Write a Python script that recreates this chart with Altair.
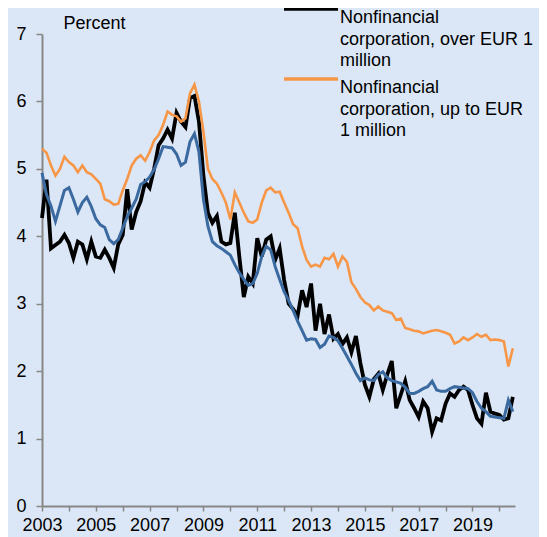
import altair as alt
import pandas as pd

# Bi-monthly observations (Jan, Mar, May, Jul, Sep, Nov), Jan 2003 - Jul 2020, percent
over_1m = [
    4.27, 4.84, 3.82, 3.87, 3.92, 4.02,
    3.90, 3.68, 3.92, 3.88, 3.66, 3.92,
    3.70, 3.68, 3.80, 3.68, 3.53, 3.88,
    4.02, 4.70, 4.10, 4.36, 4.52, 4.80,
    4.72, 5.00, 5.35, 5.45, 5.58, 5.45,
    5.83, 5.70, 5.62, 6.05, 6.08, 5.70,
    4.90, 4.35, 4.20, 4.30, 3.92, 3.88,
    3.90, 4.35, 3.70, 3.10, 3.40, 3.30,
    3.97, 3.70, 3.95, 4.00, 3.65, 3.82,
    3.35, 3.00, 2.92, 2.82, 3.20, 2.95,
    3.30, 2.60, 3.00, 2.55, 2.84, 2.48,
    2.55, 2.40, 2.50, 2.28, 2.52, 2.12,
    1.80, 1.62, 1.88, 1.96, 1.72, 1.95,
    2.15, 1.45, 1.65, 1.85, 1.57, 1.45,
    1.32, 1.55, 1.45, 1.10, 1.30, 1.27,
    1.52, 1.67, 1.62, 1.72, 1.77, 1.72,
    1.50, 1.30, 1.22, 1.68, 1.40, 1.37,
    1.35, 1.28, 1.30, 1.62,
]
up_to_1m = [
    5.30, 5.24, 5.05, 4.90, 5.00, 5.18,
    5.10, 5.05, 4.95, 5.05, 4.95, 4.92,
    4.85, 4.78, 4.55, 4.52, 4.47, 4.48,
    4.68, 4.85, 5.05, 5.15, 5.20, 5.12,
    5.25, 5.42, 5.50, 5.65, 5.85, 5.80,
    5.78, 5.70, 5.75, 6.12, 6.25, 6.00,
    5.55, 5.00, 4.85, 4.78, 4.65, 4.50,
    4.25, 4.65, 4.50, 4.35, 4.22, 4.20,
    4.25, 4.50, 4.68, 4.72, 4.65, 4.66,
    4.50, 4.35, 4.18, 4.12, 3.85, 3.65,
    3.55, 3.58, 3.55, 3.68, 3.66, 3.74,
    3.55, 3.70, 3.62, 3.32, 3.22, 3.10,
    3.02, 2.98, 2.90, 2.96, 2.90, 2.88,
    2.86, 2.76, 2.78, 2.64, 2.62, 2.60,
    2.59, 2.56, 2.58, 2.60, 2.61, 2.59,
    2.57, 2.54, 2.41, 2.44, 2.50, 2.46,
    2.50, 2.55, 2.51, 2.54, 2.46, 2.47,
    2.46, 2.44, 2.07, 2.34,
]
total = [
    4.94, 4.62, 4.45, 4.22, 4.45, 4.68,
    4.72, 4.55, 4.36, 4.50, 4.58, 4.44,
    4.26, 4.17, 4.13, 3.95, 3.89, 3.95,
    4.12, 4.29, 4.42, 4.55, 4.77, 4.81,
    4.88, 4.99, 5.15, 5.33, 5.32, 5.31,
    5.22, 5.05, 5.10, 5.40, 5.52, 5.25,
    4.55, 4.15, 3.92, 3.86, 3.82, 3.77,
    3.72, 3.58, 3.46, 3.36, 3.27, 3.30,
    3.45, 3.70, 3.85, 3.80, 3.55, 3.36,
    3.18, 3.05, 2.90, 2.74, 2.60, 2.46,
    2.48, 2.47, 2.35, 2.40, 2.52, 2.50,
    2.45, 2.34, 2.22, 2.10, 1.97, 1.86,
    1.90, 1.87, 1.86, 1.95, 1.99, 1.90,
    1.86, 1.84, 1.82, 1.76, 1.67, 1.67,
    1.70, 1.74, 1.77, 1.85, 1.72, 1.70,
    1.70, 1.74, 1.77, 1.76, 1.75, 1.74,
    1.68, 1.55, 1.45, 1.40, 1.33, 1.32,
    1.31, 1.30, 1.57, 1.40,
]

OVER = "Nonfinancial corporation, over EUR 1 million"
UP = "Nonfinancial corporation, up to EUR 1 million"
over_lines = ["Nonfinancial", "corporation, over EUR 1", "million"]
up_lines = ["Nonfinancial", "corporation, up to EUR", "1 million"]
year_ticks = list(range(2003, 2021))
y_ticks = list(range(0, 8))

n = len(over_1m)
dates = pd.date_range("2003-01-01", periods=n, freq="2MS")
t = list(dates.year + (dates.month - 1) / 12.0)

df_over = pd.DataFrame({"t": t, "value": over_1m, "series": [OVER] * n})
df_up = pd.DataFrame({"t": t, "value": up_to_1m, "series": [UP] * n})
df_total = pd.DataFrame({"t": t, "value": total})

FONT = "Liberation Sans"

x_enc = alt.X(
    "t:Q",
    scale=alt.Scale(domain=[2003, 2020.58], nice=False, zero=False),
    axis=alt.Axis(
        values=year_ticks,
        labelExpr="datum.value % 2 == 1 ? format(datum.value, 'd') : ''",
        title=None, grid=False, tickSize=5, labelPadding=5,
        labelFlush=False, labelOverlap=False,
    ),
)
y_enc = alt.Y(
    "value:Q",
    scale=alt.Scale(domain=[0, 7], nice=False, zero=True),
    axis=alt.Axis(
        values=y_ticks, format="d", grid=False, tickSize=6, labelPadding=10,
        title="Percent", titleAngle=0, titleAlign="left", titleBaseline="alphabetic",
        titleX=21, titleY=-6, titleFontSize=18, titleFontWeight="normal",
        titleFont=FONT, titleColor="#000000",
    ),
)


def legend_for(lines, y):
    expr = "[" + ", ".join("'" + s + "'" for s in lines) + "]"
    return alt.Legend(
        title=None, orient="none", legendX=240, legendY=y,
        symbolType="stroke", symbolSize=2916, symbolStrokeWidth=3.5,
        labelFontSize=18, labelFont=FONT, labelColor="#000000",
        labelLimit=0, labelOffset=0, labelBaseline="top",
        labelExpr=expr, padding=0,
    )


black = alt.Chart(df_over).mark_line(strokeWidth=3.8).encode(
    x=x_enc, y=y_enc,
    color=alt.Color("series:N", scale=alt.Scale(domain=[OVER], range=["#000000"]),
                    legend=legend_for(over_lines, -54)),
)
orange = alt.Chart(df_up).mark_line(strokeWidth=2.6).encode(
    x=x_enc, y=y_enc,
    color=alt.Color("series:N", scale=alt.Scale(domain=[UP], range=["#F79646"]),
                    legend=legend_for(up_lines, 16)),
)
blue = alt.Chart(df_total).mark_line(strokeWidth=3, color="#3A6A9F").encode(
    x=x_enc, y=y_enc
)

chart = (
    alt.layer(black, orange, blue)
    .resolve_scale(color="independent")
    .resolve_legend(color="independent")
    .properties(
        width=473, height=472,
        autosize=alt.AutoSizeParams(type="none"),
        padding={"left": 34, "top": 26, "right": 24, "bottom": 31},
        background="#DBE7F6",
    )
    .configure(style={"guide-label": {"lineHeight": 21.5}})
    .configure_view(stroke=None)
    .configure_axis(
        domainColor="#878787", domainWidth=2, tickColor="#878787", tickWidth=1.5,
        labelFont=FONT, labelFontSize=18, labelColor="#000000",
    )
)

chart.save("out.html", embed_options={"renderer": "svg", "actions": False})
